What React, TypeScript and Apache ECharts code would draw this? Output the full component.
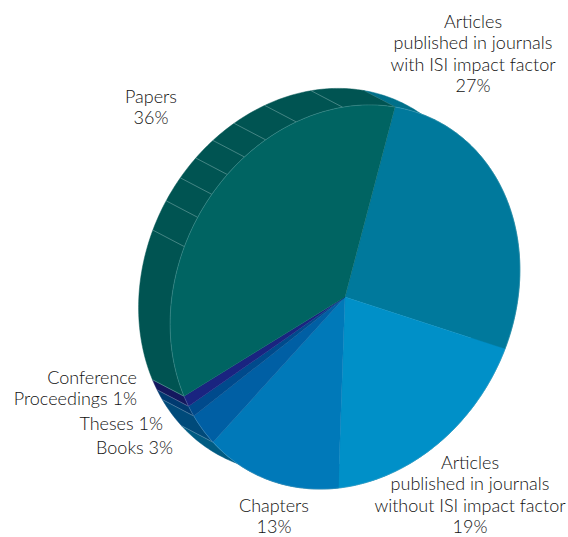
import React, { useEffect, useRef } from "react";
import * as echarts from "echarts";

const categories = [
  "Articles published in journals with ISI impact factor",
  "Articles published in journals without ISI impact factor",
  "Chapters",
  "Books",
  "Theses",
  "Conference Proceedings",
  "Papers",
];
const shares = [27, 19, 13, 3, 1, 1, 36];
const labelTexts = [
  "Articles\npublished in journals\nwith ISI impact factor\n27%",
  "Articles\npublished in journals\nwithout ISI impact factor\n19%",
  "Chapters\n13%",
  "Books 3%",
  "Theses 1%",
  "Conference\nProceedings 1%",
  "Papers\n36%",
];

// Styles and layout
const faceColors = ["#00799c", "#0090c8", "#0079b9", "#005fa4", "#004a8c", "#1a2480", "#006462"];
const rimColors = ["#00708a", "#006f96", "#005b82", "#004a7a", "#003a70", "#14185e", "#005452"];
const labelLayout: [number, number, string][] = [
  [473, 10, "center"],
  [470, 451, "center"],
  [274, 494, "center"],
  [173, 436, "right"],
  [163, 412, "right"],
  [137, 366, "right"],
  [151, 85, "center"],
];
const rimFacetAngles = [-17.4, -32.8, -43.6, -51.7, -58.9, -66.2, -74, -83.3];
const CX = 345;
const CY = 297;
const AX = 50;
const AY = -190;
const BX = 167.6;
const BY = 28.4;
const RIM_DX = -31.5;
const RIM_DY = -16.5;

const rad = Math.PI / 180;
const total = shares.reduce((a, b) => a + b, 0);
const startAngle = (i: number) =>
  (shares.slice(0, i).reduce((a, b) => a + b, 0) / total) * 360;

const pt = (deg: number, dx = 0, dy = 0): number[] => [
  CX + AX * Math.cos(deg * rad) + BX * Math.sin(deg * rad) + dx,
  CY + AY * Math.cos(deg * rad) + BY * Math.sin(deg * rad) + dy,
];
const arc = (a: number, b: number, dx = 0, dy = 0) => {
  const n = Math.max(2, Math.ceil(b - a));
  const out: number[][] = [];
  for (let k = 0; k <= n; k++) out.push(pt(a + ((b - a) * k) / n, dx, dy));
  return out;
};

const sliceRange = (i: number, value: number) => {
  const a = startAngle(i);
  return [a, a + (value / total) * 360];
};

const renderRim = (params: any, api: any) => {
  const i = params.dataIndex;
  const [a, b] = sliceRange(i, api.value(0));
  const inner = arc(a, b);
  const outer = arc(a, b, RIM_DX, RIM_DY).reverse();
  const children: any[] = [
    {
      type: "polygon",
      shape: { points: [...inner, ...outer] },
      style: { fill: rimColors[i], stroke: rimColors[i], lineWidth: 0.5 },
    },
    {
      type: "line",
      shape: {
        x1: pt(a)[0],
        y1: pt(a)[1],
        x2: pt(a, RIM_DX, RIM_DY)[0],
        y2: pt(a, RIM_DX, RIM_DY)[1],
      },
      style: { stroke: "rgba(190,225,235,0.5)", lineWidth: 0.6 },
    },
  ];
  if (categories[i] === "Papers") {
    rimFacetAngles.forEach((d) => {
      const p = pt(d);
      const q = pt(d, RIM_DX, RIM_DY);
      children.push({
        type: "line",
        shape: { x1: p[0], y1: p[1], x2: q[0], y2: q[1] },
        style: { stroke: "rgba(210,235,235,0.55)", lineWidth: 0.6 },
      });
    });
  }
  return { type: "group", children };
};

const renderFace = (params: any, api: any) => {
  const i = params.dataIndex;
  const [a, b] = sliceRange(i, api.value(0));
  const pts = arc(a, b);
  return {
    type: "group",
    children: [
      {
        type: "polygon",
        shape: { points: [[CX, CY], ...pts] },
        style: { fill: faceColors[i], stroke: faceColors[i], lineWidth: 0.4 },
      },
      {
        type: "polyline",
        shape: { points: pts },
        style: { fill: "none", stroke: "rgba(200,235,240,0.3)", lineWidth: 0.6 },
      },
    ],
  };
};

export default function App() {
  const ref = useRef<HTMLDivElement>(null);
  useEffect(() => {
    const chart = echarts.init(ref.current!, undefined, { renderer: "svg" });
    chart.setOption({
      animation: false,
      backgroundColor: "#ffffff",
      series: [
        {
          type: "custom",
          coordinateSystem: "none",
          silent: true,
          z: 1,
          data: shares.map((v, i) => ({ name: categories[i], value: [v] })),
          renderItem: renderRim,
        },
        {
          type: "custom",
          coordinateSystem: "none",
          silent: true,
          z: 2,
          data: shares.map((v, i) => ({ name: categories[i], value: [v] })),
          renderItem: renderFace,
        },
      ],
      graphic: labelTexts.map((text, i) => ({
        type: "text",
        x: labelLayout[i][0],
        y: labelLayout[i][1],
        z: 5,
        style: {
          text,
          fill: "#111111",
          font: '300 18px Lato, "Noto Sans", sans-serif',
          lineHeight: 21.5,
          textAlign: labelLayout[i][2],
          textVerticalAlign: "top",
        },
      })),
    });
    return () => chart.dispose();
  }, []);
  return (
    <div
      ref={ref}
      style={{ position: "fixed", left: 0, top: 0, width: 568, height: 537 }}
    />
  );
}
